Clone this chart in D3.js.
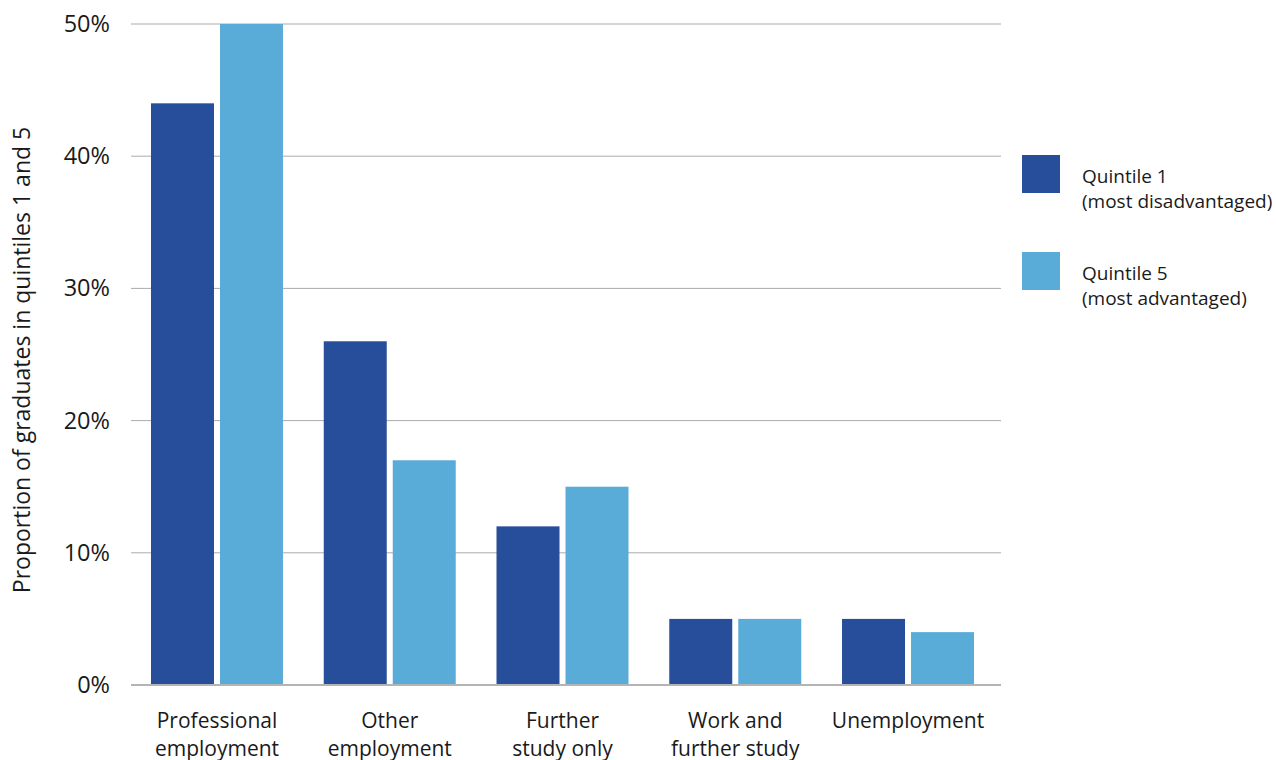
<!DOCTYPE html>
<html><head><meta charset="utf-8">
<script src="https://cdn.jsdelivr.net/npm/d3@7"></script>
<style>body{margin:0;background:#fff;} text{font-family:"Open Sans",sans-serif;fill:#1a1a1a;}</style>
</head><body>
<svg id="c" width="1276" height="760"></svg>
<script>
const categories = [["Professional","employment"],["Other","employment"],["Further","study only"],["Work and","further study"],["Unemployment"]];
const seriesNames = [["Quintile 1","(most disadvantaged)"],["Quintile 5","(most advantaged)"]];
const quintile1 = [44, 26, 12, 5, 5];
const quintile5 = [50, 17, 15, 5, 4];
const yTicks = [0, 10, 20, 30, 40, 50];
const colors = ["#264e9a", "#5aacd8"];

const svg = d3.select("#c");
const y = d3.scaleLinear().domain([0, 50]).range([685, 24]);
const x = d3.scaleBand().domain(d3.range(categories.length)).range([130.6, 994.4]).paddingInner(0.236).paddingOuter(0.118);
const xs = d3.scaleBand().domain([0,1]).range([0, x.bandwidth()]).paddingInner(0.087);

// grid
svg.append("g").selectAll("line").data(yTicks.slice(1)).join("line")
  .attr("x1", 131).attr("x2", 1001).attr("y1", d => y(d)).attr("y2", d => y(d))
  .attr("stroke", "#ababab").attr("stroke-width", 1);

// y tick labels
svg.append("g").selectAll("text").data(yTicks).join("text")
  .attr("x", 110).attr("y", d => y(d) + 8).attr("text-anchor", "end")
  .style("font-size", "23.5px").text(d => d + "%");

// bars
const series = [quintile1, quintile5];
series.forEach((vals, si) => {
  svg.append("g").selectAll("rect").data(vals).join("rect")
    .attr("x", (d, i) => x(i) + xs(si)).attr("width", xs.bandwidth())
    .attr("y", d => y(d)).attr("height", d => y(0) - y(d))
    .attr("fill", colors[si]);
});

// baseline
svg.append("line").attr("x1", 131).attr("x2", 1001).attr("y1", y(0)).attr("y2", y(0))
  .attr("stroke", "#b4b4b4").attr("stroke-width", 2);

// category labels
const cl = svg.append("g").selectAll("text").data(categories).join("text")
  .attr("text-anchor", "middle").style("font-size", "21px")
  .attr("transform", (d, i) => `translate(${x(i) + x.bandwidth()/2},728)`);
cl.selectAll("tspan").data(d => d).join("tspan")
  .attr("x", 0).attr("dy", (d, i) => i === 0 ? 0 : 28).text(d => d);

// y title
svg.append("text").attr("transform", "translate(30,360) rotate(-90)")
  .attr("text-anchor", "middle").style("font-size", "23px")
  .text("Proportion of graduates in quintiles 1 and 5");

// legend
const lg = svg.append("g").selectAll("g").data(seriesNames).join("g")
  .attr("transform", (d, i) => `translate(1022,${155 + i * 97})`);
lg.append("rect").attr("width", 38).attr("height", 38).attr("fill", (d, i) => colors[i]);
const lt = lg.append("text").attr("x", 60).attr("y", 28).style("font-size", "19px");
lt.selectAll("tspan").data(d => d).join("tspan").attr("x", 60).attr("dy", (d, i) => i === 0 ? 0 : 25).text(d => d);
</script>
</body></html>
